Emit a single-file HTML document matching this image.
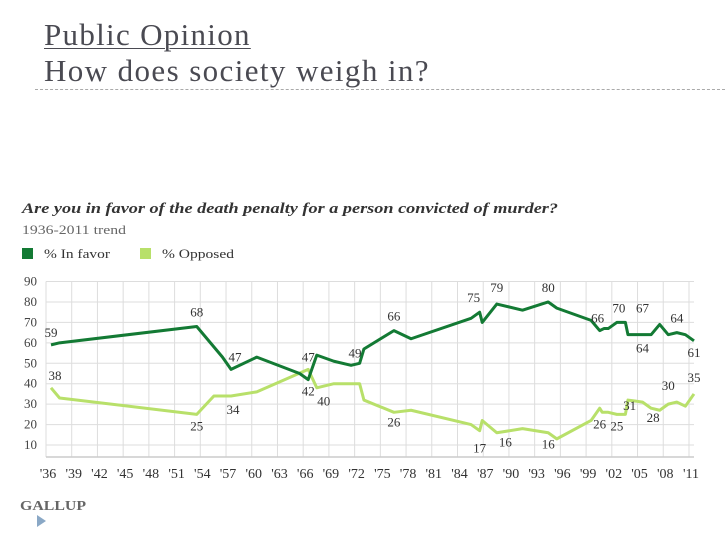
<!DOCTYPE html>
<html><head><meta charset="utf-8"><style>
body{margin:0;width:728px;height:546px;background:#fff;overflow:hidden;position:relative;font-family:"Liberation Serif",serif}
.t{position:absolute;color:#4a4a52;font-size:31px;left:44px;white-space:nowrap;letter-spacing:1.4px;line-height:36px}
</style></head><body>
<div class="t" style="top:17px;text-decoration:underline;text-decoration-thickness:1px;text-underline-offset:3px;letter-spacing:1.3px">Public Opinion</div>
<div class="t" style="top:53px">How does society weigh in?</div>
<div style="position:absolute;left:35px;top:89px;width:690px;border-top:1px dashed #aaa"></div>
<svg id="c" width="728" height="546" style="position:absolute;left:0;top:0">
<text x="22" y="213" font-size="15" font-style="italic" font-weight="bold" fill="#333" textLength="536" lengthAdjust="spacingAndGlyphs">Are you in favor of the death penalty for a person convicted of murder?</text>
<text x="22" y="234" font-size="13" fill="#666" textLength="104" lengthAdjust="spacingAndGlyphs">1936-2011 trend</text>
<rect x="22" y="248" width="11" height="11" fill="#137a34"/>
<text x="44" y="258" font-size="13" fill="#333" textLength="66" lengthAdjust="spacingAndGlyphs">% In favor</text>
<rect x="140" y="248" width="11" height="11" fill="#b8e06a"/>
<text x="162" y="258" font-size="13" fill="#333" textLength="72" lengthAdjust="spacingAndGlyphs">% Opposed</text>
<g id="grid"></g><g id="lines"></g><g id="labels"></g>
<text x="20" y="510" font-size="14" fill="#666" font-weight="bold" textLength="66" lengthAdjust="spacingAndGlyphs">GALLUP</text>
<polygon points="37,515 46,521 37,527" fill="#8aa8c6"/>
</svg>
<script>
const yTicks=[10,20,30,40,50,60,70,80,90];
const xTickYears=[1936,1939,1942,1945,1948,1951,1954,1957,1960,1963,1966,1969,1972,1975,1978,1981,1984,1987,1990,1993,1996,1999,2002,2005,2008,2011];
const favorYears=[1936,1937,1953,1956,1957,1960,1965,1966,1967,1969,1971,1972,1972.5,1976,1978,1985,1986,1986.3,1988,1991,1994,1995,1999,2000,2000.5,2001,2002,2003,2003.3,2005,2006,2007,2008,2009,2010,2011];
const favorVals=[59,60,68,53,47,53,45,42,54,51,49,50,57,66,62,72,75,70,79,76,80,77,71,66,67,67,70,70,64,64,64,69,64,65,64,61];
const opposedYears=[1936,1937,1953,1955,1957,1960,1966,1967,1969,1972,1972.5,1976,1978,1985,1986,1986.3,1988,1991,1994,1995,1999,2000,2000.3,2001,2002,2003,2003.3,2005,2006,2007,2008,2009,2010,2011];
const opposedVals=[38,33,25,34,34,36,47,38,40,40,32,26,27,20,17,22,16,18,16,13,22,28,26,26,25,25,32,31,28,27,30,31,29,35];
const favorLabels=[[1936,59,0,-8],[1953,68,0,-10],[1957,47,4,-8],[1966,47,0,-8],[1966,42,0,16],[1971,49,4,-8],[1976,66,0,-10],[1986,75,-6,-10],[1988,79,0,-12],[1994,80,0,-10],[2000,66,-2,-8],[2002,70,2,-10],[2005,67,0,-16],[2005,64,0,18],[2009,64,0,-12],[2011,61,0,16]];
const opposedLabels=[[1936,38,4,-8],[1953,25,0,16],[1957,34,2,18],[1967,40,7,22],[1976,26,0,14],[1986,17,0,22],[1989,16,0,14],[1994,16,0,16],[2000,26,0,16],[2002,25,0,16],[2003.5,31,0,8],[2006,28,2,14],[2008,30,0,-14],[2011,35,0,-12]];
const xs=y=>51+(y-1936)*8.573, ys=v=>445-(v-10)*2.043;
const NS='http://www.w3.org/2000/svg';
function mk(t,a,p){const e=document.createElementNS(NS,t);for(const k in a)e.setAttribute(k,a[k]);p.appendChild(e);return e;}
const g=document.getElementById('grid'),L=document.getElementById('lines'),lb=document.getElementById('labels');
yTicks.forEach(v=>{
 const l=mk('line',{x1:46,x2:694,y1:ys(v),y2:ys(v),stroke:'#ddd','stroke-width':1},g);
 
 
 const t=mk('text',{x:24,y:ys(v)+4,'font-size':13,fill:'#444'},g);t.textContent=v;
 
 
});
xTickYears.forEach(y=>{
 const x=xs(y)-5;
 const l=mk('line',{x1:x,x2:x,y1:ys(90),y2:457,stroke:'#ddd','stroke-width':1},g);
 
 
 const t=mk('text',{x:x+2,y:478,'font-size':14,fill:'#333','text-anchor':'middle'},g);t.textContent="'"+String(y).slice(2);
 
 
});
const ax=mk('line',{x1:46,x2:694,y1:457,y2:457,stroke:'#ccc','stroke-width':1.5},g);


function line(ysr,vs,col,name){
 const p=mk('polyline',{points:ysr.map((y,i)=>xs(y)+','+ys(vs[i])).join(' '),fill:'none',stroke:col,'stroke-width':3,'stroke-linejoin':'round'},L);
 
 
}
line(opposedYears,opposedVals,'#b8e06a','opposed-line');
line(favorYears,favorVals,'#137a34','in-favor-line');
function labs(arr,name){arr.forEach(a=>{
 const t=mk('text',{x:xs(a[0])+a[2],y:ys(a[1])+a[3],'font-size':13,fill:'#333','text-anchor':'middle'},lb);t.textContent=a[1];
 
 
});}
labs(favorLabels,'favor-value-label');labs(opposedLabels,'opposed-value-label');
</script>
</body></html>
